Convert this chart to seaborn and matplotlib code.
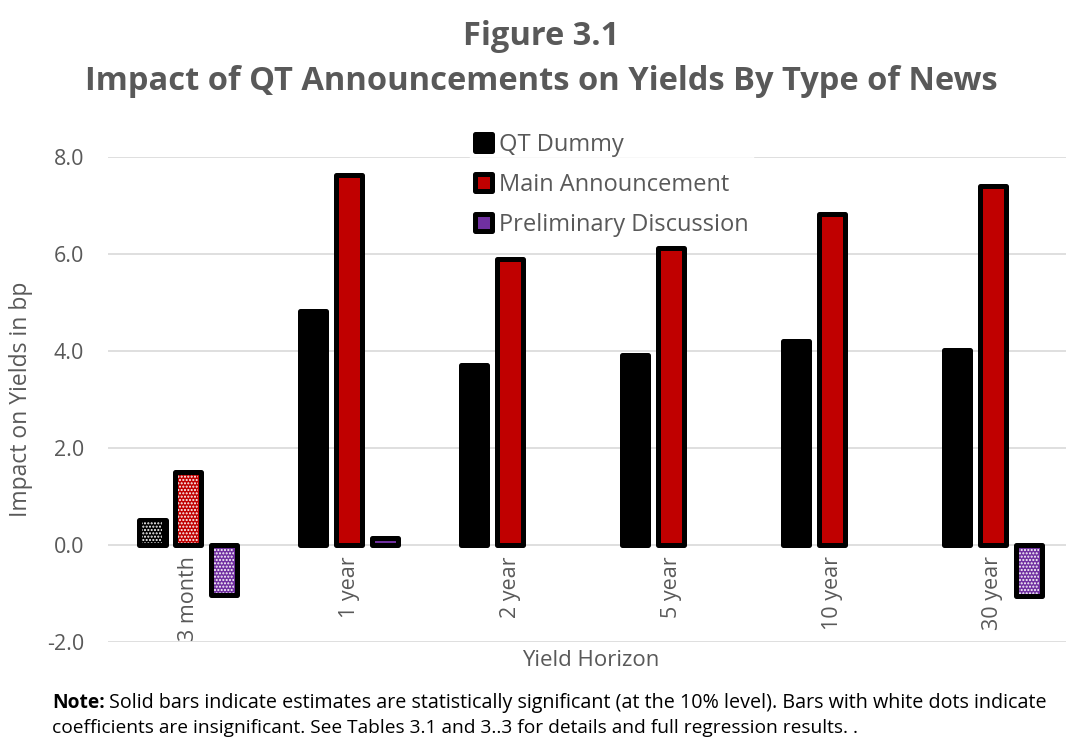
"""
Figure 3.1: impact of QT announcements on yields, by type of news.
Grouped bar chart; hatched (white dots) bars are statistically insignificant.
"""

import matplotlib
matplotlib.use("Agg")
import matplotlib.pyplot as plt
from matplotlib.patches import Rectangle
import numpy as np
import pandas as pd
import seaborn as sns

horizons = ["3 month", "1 year", "2 year", "5 year", "10 year", "30 year"]
news_types = ["QT Dummy", "Main Announcement", "Preliminary Discussion"]

qt_dummy = [0.52, 4.82, 3.71, 3.92, 4.20, 4.02]
main_announcement = [1.50, 7.63, 5.90, 6.12, 6.82, 7.40]
preliminary = [-1.03, 0.15, None, None, None, -1.05]

# True = significant at the 10% level (solid bar)
qt_sig = [False, True, True, True, True, True]
main_sig = [False, True, True, True, True, True]
prelim_sig = [False, True, True, True, True, False]

colors = ["#000000", "#C00000", "#7030A0"]
GRAY = "#595959"
EDGE_LW = 3.6

rows = []
for name, vals in zip(news_types, [qt_dummy, main_announcement, preliminary]):
    for h, v in zip(horizons, vals):
        rows.append({"horizon": h, "news": name,
                     "impact": np.nan if v is None else v})
df = pd.DataFrame(rows)

sns.set_theme(style="white")
plt.rcParams["font.family"] = ["Open Sans", "DejaVu Sans"]

fig = plt.figure(figsize=(10.66, 7.38), dpi=100)
ax = fig.add_axes([0.101, 0.130, 0.906, 0.657])

sns.barplot(data=df, x="horizon", y="impact", hue="news", order=horizons,
            hue_order=news_types, palette=colors, saturation=1, width=0.67,
            gap=0.26, edgecolor="black", linewidth=EDGE_LW, errorbar=None,
            ax=ax, zorder=3)

sig_flags = [qt_sig, main_sig, prelim_sig]
for cont, flags in zip(ax.containers, sig_flags):
    for bar in cont:
        bar.set_joinstyle("round")
        idx = int(round(bar.get_x() + bar.get_width() / 2))
        if flags[idx] or bar.get_height() == 0:
            continue
        x, y = bar.get_xy()
        w, h = bar.get_width(), bar.get_height()
        s = np.sign(h)
        ax.add_patch(Rectangle((x + w * 0.12, y + s * 0.05),
                               w * 0.76, h - s * 0.10,
                               fill=False, hatch=".....", edgecolor="white",
                               linewidth=0, zorder=4))

ax.set_ylim(-2, 8)
ax.set_yticks(np.arange(-2, 8.1, 2))
ax.yaxis.set_major_formatter(matplotlib.ticker.FormatStrFormatter("%.1f"))
ax.grid(axis="y", color="#d9d9d9", linewidth=1.2, zorder=0)
ax.set_axisbelow(True)
for s in ax.spines.values():
    s.set_visible(False)
# category labels sit right under the zero line, as in the original
ax.spines["bottom"].set_position(("data", 0))
ax.tick_params(axis="y", length=0, labelsize=15.5, labelcolor=GRAY, pad=17)
ax.tick_params(axis="x", length=0, labelsize=15.5, labelcolor=GRAY, pad=8,
               labelrotation=90)
ax.set_xlabel("Yield Horizon", fontsize=16, color=GRAY)
ax.xaxis.set_label_coords(0.5, -0.017)
ax.set_ylabel("Impact on Yields in bp", fontsize=16.5, color=GRAY, labelpad=10)

leg = ax.legend(loc="upper center", bbox_to_anchor=(0.522, 1.085), frameon=True,
                fontsize=17, handlelength=0.7, handleheight=0.7,
                handletextpad=0.3, labelspacing=0.68, borderpad=0.2)
leg.get_frame().set_facecolor("white")
leg.get_frame().set_edgecolor("white")
leg.set_zorder(5)
for t in leg.get_texts():
    t.set_color(GRAY)
for hnd in leg.legend_handles:
    hnd.set_linewidth(EDGE_LW)
    hnd.set_joinstyle("round")

fig.text(0.508, 0.951, "Figure 3.1", ha="center", va="center",
         fontsize=23.5, fontweight="bold", color=GRAY)
fig.text(0.508, 0.890, "Impact of QT Announcements on Yields By Type of News",
         ha="center", va="center", fontsize=23.5, fontweight="bold", color=GRAY)

note = fig.text(0.049, 0.048, "Note:", fontsize=13.8, fontweight="bold",
                color="black", va="center")
ax.annotate("Solid bars indicate estimates are statistically significant "
            "(at the 10% level). Bars with white dots indicate",
            xy=(1, 0.5), xycoords=note, xytext=(3, 0),
            textcoords="offset points", va="center", fontsize=14.2,
            color="black", annotation_clip=False)
fig.text(0.049, 0.013, "coefficients are insignificant. See Tables 3.1 and 3..3 for "
         "details and full regression results. .",
         fontsize=13.8, color="black", va="center")

fig.savefig("out.png", dpi=100)
